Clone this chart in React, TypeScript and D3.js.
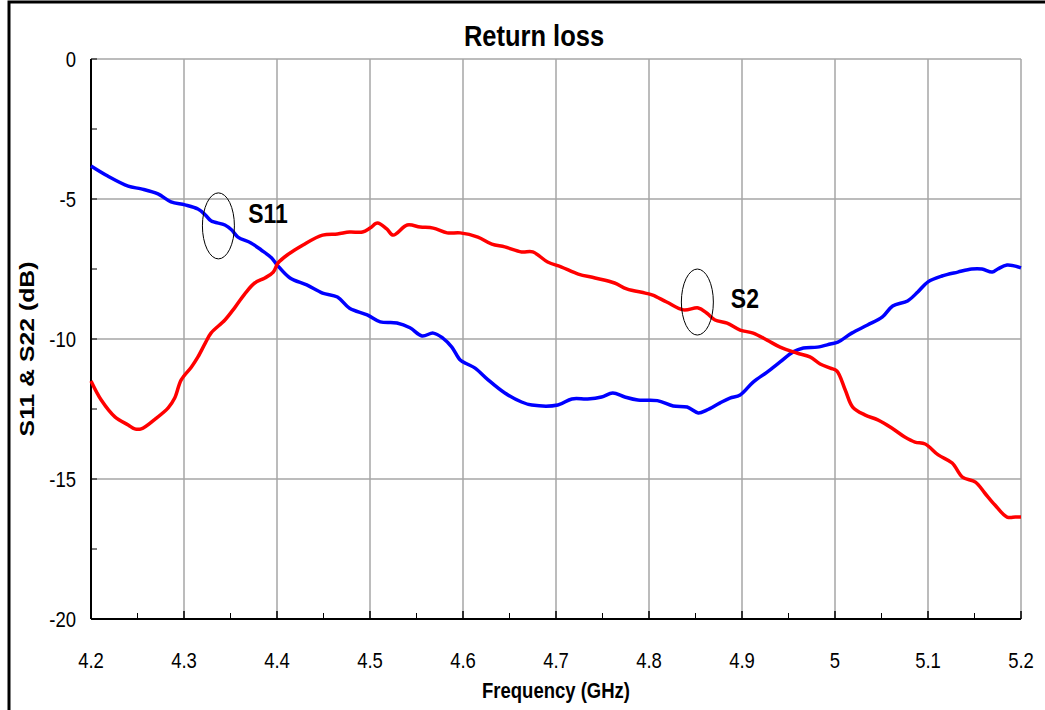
import React from 'react'
import * as d3 from 'd3'

// chart texts
const chartTitle = 'Return loss'
const xTitle = 'Frequency (GHz)'
const yTitle = 'S11 & S22 (dB)'

// axis ticks
const xTicks = [4.2, 4.3, 4.4, 4.5, 4.6, 4.7, 4.8, 4.9, 5, 5.1, 5.2]
const xMinor = [4.25, 4.35, 4.45, 4.55, 4.65, 4.75, 4.85, 4.95, 5.05, 5.15]
const yTicks = [0, -5, -10, -15, -20]
const yMinor = [-2.5, -7.5, -12.5, -17.5]

// S11 (blue)
const s11Freq = [4.2, 4.218, 4.24, 4.254, 4.272, 4.286, 4.301, 4.315, 4.323, 4.329, 4.344, 4.351, 4.358, 4.372, 4.383, 4.394, 4.4, 4.414, 4.432, 4.449, 4.465, 4.478, 4.497, 4.511, 4.529, 4.543, 4.556, 4.568, 4.578, 4.588, 4.597, 4.605, 4.613, 4.627, 4.645, 4.663, 4.674, 4.702, 4.717, 4.734, 4.749, 4.761, 4.774, 4.788, 4.809, 4.826, 4.841, 4.853, 4.862, 4.876, 4.887, 4.898, 4.912, 4.927, 4.941, 4.955, 4.966, 4.981, 4.995, 5.003, 5.018, 5.035, 5.051, 5.062, 5.078, 5.089, 5.1, 5.115, 5.132, 5.147, 5.158, 5.169, 5.175, 5.185, 5.2]
const s11Db = [-3.82, -4.18, -4.54, -4.64, -4.82, -5.1, -5.21, -5.36, -5.57, -5.78, -5.93, -6.1, -6.36, -6.57, -6.82, -7.1, -7.35, -7.82, -8.07, -8.36, -8.5, -8.9, -9.14, -9.39, -9.43, -9.6, -9.89, -9.79, -9.96, -10.29, -10.75, -10.9, -11.04, -11.46, -11.93, -12.25, -12.36, -12.36, -12.14, -12.14, -12.07, -11.93, -12.07, -12.18, -12.2, -12.39, -12.43, -12.64, -12.54, -12.29, -12.11, -12.0, -11.54, -11.18, -10.82, -10.46, -10.32, -10.29, -10.18, -10.11, -9.79, -9.5, -9.21, -8.82, -8.64, -8.32, -7.96, -7.75, -7.61, -7.5, -7.5, -7.61, -7.5, -7.36, -7.46]

// S22 (red)
const s22Freq = [4.2, 4.211, 4.226, 4.24, 4.247, 4.254, 4.269, 4.283, 4.29, 4.297, 4.308, 4.315, 4.323, 4.329, 4.344, 4.355, 4.366, 4.376, 4.387, 4.396, 4.401, 4.411, 4.428, 4.449, 4.465, 4.478, 4.492, 4.5, 4.508, 4.518, 4.525, 4.54, 4.554, 4.568, 4.583, 4.597, 4.616, 4.631, 4.645, 4.663, 4.675, 4.691, 4.706, 4.724, 4.742, 4.763, 4.776, 4.796, 4.804, 4.819, 4.837, 4.853, 4.862, 4.871, 4.884, 4.898, 4.912, 4.927, 4.941, 4.959, 4.973, 4.984, 4.995, 5.002, 5.011, 5.019, 5.032, 5.046, 5.061, 5.075, 5.086, 5.097, 5.111, 5.126, 5.137, 5.151, 5.161, 5.172, 5.185, 5.194, 5.2]
const s22Db = [-11.5, -12.18, -12.79, -13.07, -13.21, -13.21, -12.86, -12.46, -12.11, -11.46, -11.0, -10.64, -10.14, -9.79, -9.32, -8.86, -8.36, -8.0, -7.82, -7.61, -7.29, -7.0, -6.64, -6.29, -6.25, -6.18, -6.18, -6.04, -5.86, -6.07, -6.29, -5.93, -6.0, -6.04, -6.21, -6.21, -6.36, -6.61, -6.71, -6.89, -6.89, -7.25, -7.43, -7.68, -7.82, -8.0, -8.21, -8.36, -8.43, -8.68, -8.96, -8.89, -9.07, -9.32, -9.43, -9.68, -9.79, -10.04, -10.29, -10.5, -10.64, -10.89, -11.04, -11.14, -11.82, -12.43, -12.71, -12.89, -13.18, -13.5, -13.68, -13.75, -14.14, -14.43, -14.93, -15.11, -15.5, -15.93, -16.36, -16.36, -16.36]

// callouts: ellipse centre and label anchor, in data units
const noteNames = ['S11', 'S2']
const noteFreq = [4.337, 4.852]
const noteDb = [-5.96, -8.68]
const noteLabelFreq = [4.369, 4.888]
const noteLabelDb = [-5.86, -8.89]

const W = 1045, H = 710
const left = 91, right = 1021, top = 59, bottom = 619
const font = 'Liberation Sans, Arial, Helvetica, sans-serif'

// text drawn a bit taller than wide, like the narrow Excel font
const Tall = ({ x, y, size, bold, anchor, rotate, k = 1.18, children }) =>
    <text transform={`translate(${x}, ${y})${rotate ? ' rotate(-90)' : ''} scale(${rotate ? k : 1}, ${rotate ? 1 : k})`}
        textAnchor={anchor ?? 'start'} fontSize={size} fontWeight={bold ? 'bold' : 'normal'}>{children}</text>

export default function App() {
    const x = d3.scaleLinear([4.2, 5.2], [left, right])
    const y = d3.scaleLinear([-20, 0], [bottom, top])

    const line = d3.line<[number, number]>()
        .x(d => x(d[0]))
        .y(d => y(d[1]))
        .curve(d3.curveCatmullRom.alpha(0.5))

    const s11 = s11Freq.map((f, i) => [f, s11Db[i]] as [number, number])
    const s22 = s22Freq.map((f, i) => [f, s22Db[i]] as [number, number])

    return <div style={{ position: 'fixed', left: 0, top: 0 }}>
        <svg width={W} height={H} style={{ display: 'block', background: '#fff' }} fontFamily={font}>
            {/* outer chart frame */}
            <rect x={9} y={2} width={1100} height={800} fill="none" stroke="#000" strokeWidth={3} />

            {/* grid */}
            {xTicks.map(t => <line key={'gx' + t} x1={x(t)} x2={x(t)} y1={top} y2={bottom} stroke="#a6a6a6" strokeWidth={1.5} />)}
            {yTicks.map(t => <line key={'gy' + t} x1={left} x2={right} y1={y(t)} y2={y(t)} stroke="#a6a6a6" strokeWidth={1.5} />)}

            {/* ticks */}
            {xTicks.map(t => <line key={'tx' + t} x1={x(t)} x2={x(t)} y1={bottom} y2={bottom - 8} stroke="#000" strokeWidth={1.5} />)}
            {xMinor.map(t => <line key={'mx' + t} x1={x(t)} x2={x(t)} y1={bottom} y2={bottom - 6} stroke="#000" strokeWidth={1} />)}
            {yTicks.concat(yMinor).map(t => <line key={'ty' + t} x1={left} x2={left + 6} y1={y(t)} y2={y(t)} stroke="#000" strokeWidth={1} />)}

            {/* axes */}
            <line x1={left} x2={left} y1={top} y2={bottom} stroke="#000" strokeWidth={2} />
            <line x1={left} x2={right} y1={bottom} y2={bottom} stroke="#000" strokeWidth={2} />

            {/* tick labels */}
            {xTicks.map(t => <Tall key={'lx' + t} x={x(t)} y={668} anchor="middle" size={18.5}>{t}</Tall>)}
            {yTicks.map(t => <Tall key={'ly' + t} x={76} y={y(t) + 8} anchor="end" size={18.5}>{t}</Tall>)}

            {/* curves */}
            <path d={line(s11)} fill="none" stroke="#0000ff" strokeWidth={3.5} strokeLinejoin="round" />
            <path d={line(s22)} fill="none" stroke="#ff0000" strokeWidth={3.5} strokeLinejoin="round" />

            {/* callouts */}
            {noteNames.map((n, i) => <g key={n}>
                <ellipse cx={x(noteFreq[i])} cy={y(noteDb[i])} rx={16} ry={33} fill="none" stroke="#000" strokeWidth={1} />
                <Tall x={x(noteLabelFreq[i])} y={y(noteLabelDb[i])} size={23} bold>{n}</Tall>
            </g>)}

            {/* titles */}
            <Tall x={534} y={46} anchor="middle" size={25.5} bold>{chartTitle}</Tall>
            <Tall x={556} y={698} anchor="middle" size={18.5} bold>{xTitle}</Tall>
            <Tall x={34} y={(top + bottom) / 2 + 10} anchor="middle" size={21} bold rotate>{yTitle}</Tall>
        </svg>
    </div>
}
